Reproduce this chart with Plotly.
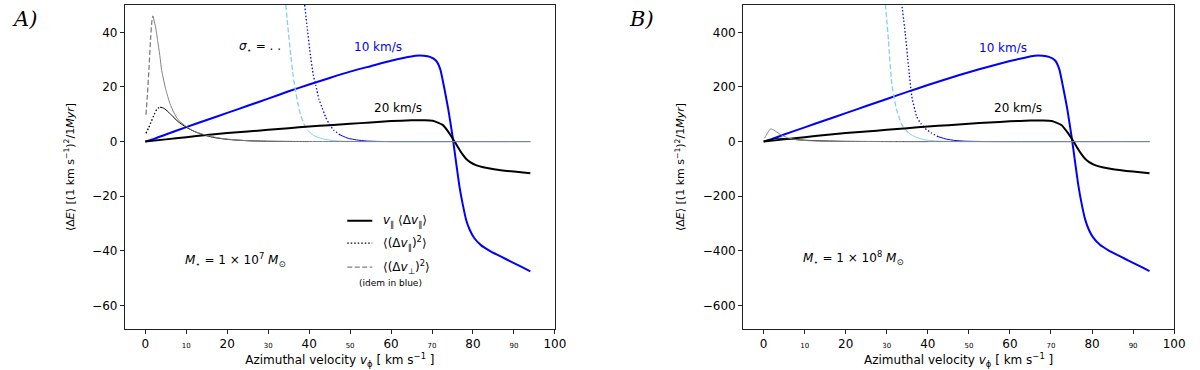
import plotly.graph_objects as go

# ---- panel A (M = 1e7 Msun) ----
# sigma = 10 km/s, drift term v|| <dv||>
v_drift10_a = [0, 2, 5, 10, 15, 20, 25, 30, 35, 40, 45, 50, 55, 60, 63, 66, 68, 69.5, 71, 72, 73, 74, 75,
               75.9, 76.7, 77.5, 78.3, 79.2, 80.3, 82, 84, 86, 88, 90, 92, 94]
e_drift10_a = [0, 0.9, 2.6, 5.3, 7.9, 10.5, 13.1, 15.7, 18.4, 20.9, 23.3, 25.6, 27.6, 29.6, 30.6, 31.4, 31.4,
               31.0, 29.6, 26.5, 19.5, 11.5, 2.0, -7.9, -16.5, -23.0, -28.5, -32.3, -35.3, -38.0, -39.9, -41.5,
               -43.0, -44.5, -46.0, -47.5]
# sigma = 20 km/s, drift term
v_drift20_a = [0, 5, 10, 15, 20, 25, 30, 35, 40, 45, 50, 55, 60, 65, 68, 70.2, 72.6, 74.2, 75.5, 76.7, 77.5,
               78.3, 79.3, 80.7, 82.5, 85.5, 90, 94]
e_drift20_a = [0, 0.8, 1.6, 2.4, 3.1, 3.7, 4.3, 4.9, 5.5, 6.0, 6.5, 7.0, 7.5, 7.8, 7.8, 7.6, 6.1, 3.1, 0, -3.0,
               -4.8, -6.3, -7.5, -8.6, -9.4, -10.2, -11.0, -11.6]
# sigma = 10 km/s, <(dv||)^2>
v_par10_a = [38.9, 39.5, 40.3, 41.0, 41.6, 42.4, 43.2, 44.0, 44.8, 46.0, 47.6]
e_par10_a = [50, 42, 31.7, 24.5, 20.7, 15.5, 12.2, 9.0, 6.7, 4.2, 2.4]
v_par10_tail_a = [47.6, 49.5, 51.6, 54, 57, 60, 94]
e_par10_tail_a = [2.4, 1.2, 0.6, 0.2, 0.05, 0, 0]
# sigma = 10 km/s, <(dv_perp)^2>
v_perp10_a = [34.3, 34.8, 35.5, 36.1, 36.7, 37.3, 37.9, 38.7, 39.5]
e_perp10_a = [50, 42, 31.7, 24.0, 18.3, 13.5, 9.8, 6.5, 4.3]
v_perp10_tail_a = [39.5, 41, 42.8, 45, 48, 52, 94]
e_perp10_tail_a = [4.3, 2.3, 1.2, 0.5, 0.15, 0, 0]
# sigma = 20 km/s, <(dv||)^2>
v_par20_a = [0.15, 0.8, 1.5, 2.2, 2.9, 3.6]
e_par20_a = [3.0, 5.0, 7.5, 10.0, 12.0, 12.6]
v_par20_tail_a = [3.6, 4.5, 5.5, 6.5, 8, 10, 12, 14, 17, 20, 25, 30, 40]
e_par20_tail_a = [12.6, 12.2, 11.0, 9.5, 7.3, 5.2, 3.7, 2.5, 1.4, 0.8, 0.3, 0.1, 0]
# sigma = 20 km/s, <(dv_perp)^2>
v_perp20_a = [0.15, 0.5, 0.9, 1.3, 1.6, 1.85]
e_perp20_a = [9.8, 17, 27, 38, 44, 46]
v_perp20_tail_a = [1.85, 2.5, 3, 3.5, 4, 5, 6, 7, 8, 10, 12, 15, 18, 22, 26, 30, 40, 50, 94]
e_perp20_tail_a = [46, 42, 37, 32, 26, 19, 14, 10.5, 8, 5.5, 3.7, 2.3, 1.3, 0.6, 0.25, 0.1, 0.02, 0, 0]

# ---- panel B (M = 1e8 Msun) ----
v_drift10_b = [0, 2, 5, 10, 15, 20, 25, 30, 35, 40, 45, 50, 55, 60, 63, 66, 68, 69.5, 71, 72, 73, 74, 75,
               75.9, 76.7, 77.5, 78.3, 79.2, 80.3, 82, 84, 86, 88, 90, 92, 94]
e_drift10_b = [0, 9, 26, 52, 78, 104, 130, 156, 182, 207, 231, 254, 275, 295, 305, 314, 314, 310, 297, 266,
               195, 116, 20, -78, -164, -230, -284, -322, -352, -379, -398, -414, -429, -444, -459, -474]
v_drift20_b = [0, 5, 10, 15, 20, 25, 30, 35, 40, 45, 50, 55, 60, 65, 68, 70.2, 72.6, 74.2, 75.5, 76.7, 77.5,
               78.3, 79.3, 80.7, 82.5, 85.5, 90, 94]
e_drift20_b = [0, 8, 16, 24, 31, 37, 43, 49, 55, 60, 65, 70, 74, 77, 77, 75, 60, 30, 0, -30, -48, -63, -75,
               -86, -94, -102, -110, -116]
v_par10_b = [33.5, 34.5, 35.3, 36.1, 37.3, 38.3, 39.3, 40.8, 42.5]
e_par10_b = [520, 396, 274, 165, 91, 66, 49, 32, 18]
v_par10_tail_b = [42.5, 44.5, 46.6, 49, 52, 56, 94]
e_par10_tail_b = [18, 9, 4, 1.5, 0.5, 0, 0]
v_perp10_b = [29.5, 30.4, 31.2, 32.4, 33.7, 35.3]
e_perp10_b = [530, 372, 213, 116, 61, 31]
v_perp10_tail_b = [35.3, 36.8, 38.5, 40.5, 43, 47, 94]
e_perp10_tail_b = [31, 18, 9, 4, 1.5, 0, 0]
v_par20_b = [0.2, 1.5, 2.5, 3.5, 5, 6.5, 8, 10, 14, 20, 30, 40]
e_par20_b = [3, 7, 10.5, 12, 11, 9, 7, 5, 2.5, 0.8, 0.1, 0]
v_perp20_b = [0.2, 0.6, 1.0, 1.4, 1.8, 2.5, 3, 4, 5, 6, 8, 10, 14, 20, 30, 94]
e_perp20_b = [12, 22, 33, 42, 46, 42, 37, 27, 19, 13, 7, 4, 1.5, 0.5, 0, 0]

x_ticks = [0, 10, 20, 30, 40, 50, 60, 70, 80, 90, 100]
x_ticktext = [str(t) if t % 20 == 0 else f'<span style="font-size:7px">{t}</span>' for t in x_ticks]
y_ticks_a = [-60, -40, -20, 0, 20, 40]
y_ticks_b = [-600, -400, -200, 0, 200, 400]

BLUE = "#0000ff"
SKY = "#87ceeb"
GRAY = "#808080"
FONT = "DejaVu Sans"
DOT = "1.5px,2px"
DASH = "5px,2.5px"

fig = go.Figure()


def add_line(x, y, color, width, dash, axis):
    xa, ya = ("x", "y") if axis == "a" else ("x2", "y2")
    fig.add_trace(go.Scatter(x=x, y=y, mode="lines", xaxis=xa, yaxis=ya, showlegend=False,
                             line=dict(color=color, width=width, dash=dash, shape="spline", smoothing=0.5),
                             hoverinfo="skip"))


d = globals()
for p in ("a", "b"):
    add_line(d[f"v_drift10_{p}"], d[f"e_drift10_{p}"], BLUE, 2, "solid", p)
    add_line(d[f"v_par10_{p}"], d[f"e_par10_{p}"], BLUE, 1.3, DOT, p)
    add_line(d[f"v_par10_tail_{p}"], d[f"e_par10_tail_{p}"], BLUE, 1, "solid", p)
    add_line(d[f"v_perp10_{p}"], d[f"e_perp10_{p}"], SKY, 1.3, DASH, p)
    add_line(d[f"v_perp10_tail_{p}"], d[f"e_perp10_tail_{p}"], SKY, 1, "solid", p)
    add_line(d[f"v_drift20_{p}"], d[f"e_drift20_{p}"], "black", 2, "solid", p)

add_line(v_par20_a, e_par20_a, "black", 1.3, DOT, "a")
add_line(v_par20_tail_a, e_par20_tail_a, "black", 1, "solid", "a")
add_line(v_perp20_a, e_perp20_a, GRAY, 1.3, DASH, "a")
add_line(v_perp20_tail_a, e_perp20_tail_a, GRAY, 1, "solid", "a")
add_line(v_par20_b, e_par20_b, "black", 1, "solid", "b")
add_line(v_perp20_b, e_perp20_b, GRAY, 1, "solid", "b")

ytitle = "⟨Δ<i>E</i>⟩ [(1 km s<sup>−1</sup>)<sup>2</sup>/1<i>Myr</i>]"
xtitle = "Azimuthal velocity <i>v</i><sub>ϕ</sub> [ km s<sup>−1</sup> ]"
axis_common = dict(showline=True, mirror=True, linecolor="#222", linewidth=1, ticks="outside", ticklen=4,
                   tickcolor="#222", showgrid=False, zeroline=False, tickfont=dict(size=12, color="black"))

fig.update_layout(
    width=1200, height=370,
    margin=dict(l=0, r=0, t=0, b=0),
    paper_bgcolor="white", plot_bgcolor="white",
    font=dict(family=FONT, color="black"),
    xaxis=dict(domain=[0.105, 0.4667], range=[-5, 100], tickvals=x_ticks, ticktext=x_ticktext,
               title=dict(text=xtitle, font=dict(size=12), standoff=3), anchor="y", **axis_common),
    yaxis=dict(domain=[0.111, 0.9865], range=[-68.6, 50], tickvals=y_ticks_a,
               title=dict(text=ytitle, font=dict(size=11)), anchor="x", **axis_common),
    xaxis2=dict(domain=[0.625, 0.9875], range=[-5, 100], tickvals=x_ticks, ticktext=x_ticktext,
                title=dict(text=xtitle, font=dict(size=12), standoff=3), anchor="y2", **axis_common),
    yaxis2=dict(domain=[0.111, 0.9865], range=[-686, 500], tickvals=y_ticks_b,
                title=dict(text=ytitle, font=dict(size=11)), anchor="x2", **axis_common),
)

# curve labels
ann = [
    ("x", "y", 56.8, 34.6, "10 km/s", BLUE),
    ("x", "y", 61.8, 12.3, "20 km/s", "black"),
    ("x", "y", 28.0, 34.6, "<i>σ</i><sub>⋆</sub> = . .", "black"),
    ("x", "y", 21.8, -43.3, "<i>M</i><sub>⋆</sub> = 1 × 10<sup>7</sup> <i>M</i><sub>⊙</sub>", "black"),
    ("x2", "y2", 58.4, 344, "10 km/s", BLUE),
    ("x2", "y2", 62.0, 124, "20 km/s", "black"),
    ("x2", "y2", 21.8, -426, "<i>M</i><sub>⋆</sub> = 1 × 10<sup>8</sup> <i>M</i><sub>⊙</sub>", "black"),
]
for xr, yr, x, y, t, c in ann:
    fig.add_annotation(xref=xr, yref=yr, x=x, y=y, text=t, showarrow=False, font=dict(size=12, color=c))

# panel letters
for px, letter in ((10, "A)"), (633, "B)")):
    fig.add_annotation(xref="paper", yref="paper", x=px / 1200, y=1 - 19 / 370, xanchor="left",
                       yanchor="middle", text=f"<i>{letter}</i>", showarrow=False,
                       font=dict(family="DejaVu Serif", size=21))

# hand-made legend in panel A
legend_rows = [
    (-29.0, "solid", 2, "black", "<i>v</i><sub>∥</sub> ⟨Δ<i>v</i><sub>∥</sub>⟩"),
    (-37.2, DOT, 1.3, "black", "⟨(Δ<i>v</i><sub>∥</sub>)<sup>2</sup>⟩"),
    (-46.0, DASH, 1.3, GRAY, "⟨(Δ<i>v</i><sub>⊥</sub>)<sup>2</sup>⟩"),
]
for y, dash, w, c, t in legend_rows:
    fig.add_shape(type="line", xref="x", yref="y", x0=49.3, x1=55.4, y0=y, y1=y,
                  line=dict(color=c, width=w, dash=dash))
    fig.add_annotation(xref="x", yref="y", x=57.5, y=y, text=t, xanchor="left", showarrow=False,
                       font=dict(size=12))
fig.add_annotation(xref="x", yref="y", x=59.9, y=-51.8, text="(idem in blue)", showarrow=False,
                   font=dict(size=9))

fig.write_html("out.html", config={"displayModeBar": False},
               post_script="document.body.style.margin='0px';")
